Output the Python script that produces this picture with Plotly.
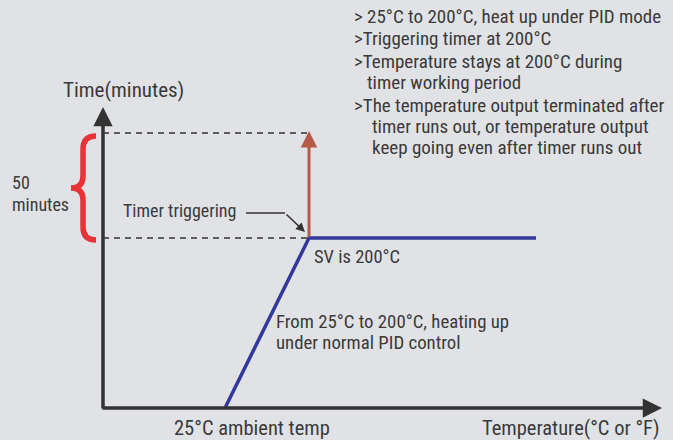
import plotly.graph_objects as go

# ---- schematic data (abstract units: origin at axis corner, 1 unit ~ 1 px) ----
axis_x_end = 559          # temperature axis length
axis_y_end = 301          # time axis length
profile_temp = [122, 206, 433]   # ambient 25°C -> SV 200°C -> hold
profile_time = [0, 170, 170]
timer_start = 170
timer_end = 275
brace_x = [-7, -20, -32]   # right end, stem, tip

top_notes = [
    "> 25°C to 200°C, heat up under PID mode",
    ">Triggering timer at 200°C",
    ">Temperature stays at 200°C during",
    "timer working period",
    ">The temperature output terminated after",
    "timer runs out, or temperature output",
    "keep going even after timer runs out",
]
top_notes_x = [249, 249, 249, 262, 249, 267, 267]
top_notes_y = [392, 370, 347, 326, 303, 282, 261]

FONT = "Roboto Condensed, Roboto, sans-serif"
TXT = "#3a3a3a"
AX = "#333333"
BLUE = "#34389a"
BROWN = "#b35a48"
RED = "#e8333a"

fig = go.Figure()

# temperature profile
fig.add_trace(go.Scatter(x=profile_temp, y=profile_time, mode="lines",
                         line=dict(color=BLUE, width=3.5), hoverinfo="skip"))

# dashed guide lines
for yy in (timer_start, timer_end):
    fig.add_trace(go.Scatter(x=[0, profile_temp[1]], y=[yy, yy], mode="lines",
                             line=dict(color=AX, width=1.3, dash="6px,5px"), hoverinfo="skip"))

# axes (lines with arrowheads)
fig.add_annotation(x=axis_x_end, y=0, ax=-2, ay=0, xref="x", yref="y", axref="x", ayref="y",
                   showarrow=True, arrowhead=2, arrowsize=1.1, arrowwidth=3.5, arrowcolor=AX, text="")
fig.add_annotation(x=0, y=axis_y_end, ax=0, ay=-2, xref="x", yref="y", axref="x", ayref="y",
                   showarrow=True, arrowhead=2, arrowsize=1.1, arrowwidth=3.5, arrowcolor=AX, text="")

# timer arrow (brown)
fig.add_annotation(x=profile_temp[1], y=timer_end + 2, ax=profile_temp[1], ay=timer_start,
                   xref="x", yref="y", axref="x", ayref="y",
                   showarrow=True, arrowhead=2, arrowsize=1.1, arrowwidth=3, arrowcolor=BROWN, text="")

# Timer triggering pointer
fig.add_trace(go.Scatter(x=[143, 182], y=[195, 195], mode="lines",
                         line=dict(color=AX, width=1.5), hoverinfo="skip"))
fig.add_annotation(x=202, y=176, ax=182, ay=195, xref="x", yref="y", axref="x", ayref="y",
                   showarrow=True, arrowhead=2, arrowsize=1.2, arrowwidth=1.5, arrowcolor=AX, text="")

# red brace
top, bot = timer_end - 3, timer_start - 2
mid = (top + bot) / 2
r, s, t = brace_x
path = (f"M {r},{top} Q {s},{top} {s},{top-13} L {s},{mid+12} Q {s},{mid} {t},{mid} "
        f"Q {s},{mid} {s},{mid-12} L {s},{bot+13} Q {s},{bot} {r},{bot}")
fig.add_shape(type="path", path=path, xref="x", yref="y", line=dict(color=RED, width=5.5))

def txt(x, y, s, size=19, anchor="left"):
    fig.add_annotation(x=x, y=y, xref="x", yref="y", text=s, showarrow=False,
                       xanchor=anchor, yanchor="middle", font=dict(family=FONT, size=size, color=TXT))

for s, x, y in zip(top_notes, top_notes_x, top_notes_y):
    txt(x, y, s)

txt(-42, 318, "Time(minutes)", size=21)
txt(-93, 226, "50", size=18)
txt(-93, 204, "minutes", size=18)
txt(18, 198, "Timer triggering", size=18)
txt(209, 151, "SV is 200°C", size=18.5)
txt(171, 86, "From 25°C to 200°C, heating up", size=18.8)
txt(171, 65, "under normal PID control", size=18.8)
txt(69, -20, "25°C ambient temp", size=20.5)
txt(377, -20, "Temperature(°C or °F)", size=20.5)

fig.update_layout(
    width=673, height=440, margin=dict(l=0, r=0, t=0, b=0),
    paper_bgcolor="#e1e2e6", plot_bgcolor="#e1e2e6", showlegend=False,
    xaxis=dict(range=[-103, 570], visible=False, fixedrange=True),
    yaxis=dict(range=[-32, 408], visible=False, fixedrange=True),
)

fig.write_html("out.html", config={"displayModeBar": False},
               post_script="document.body.style.margin='0';")
